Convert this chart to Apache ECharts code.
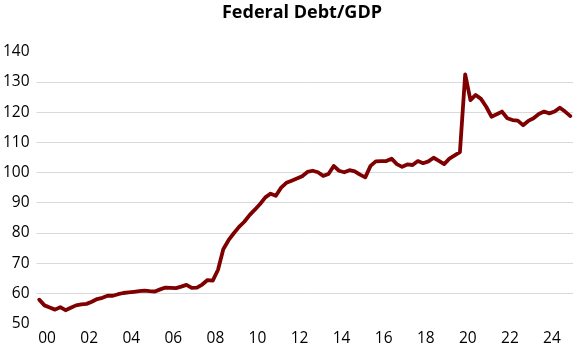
<!DOCTYPE html>
<html>
<head>
<meta charset="utf-8">
<script src="https://cdn.jsdelivr.net/npm/echarts@6/dist/echarts.min.js"></script>
<style>
html,body{margin:0;padding:0;background:#fff;}
#chart{width:585px;height:350px;}
</style>
</head>
<body>
<div id="chart"></div>
<script>
// Quarterly federal debt as % of GDP (first point = 1999 Q3 midpoint)
const firstQuarter = 1999.625;
const quarterStep = 0.25;
const debtToGdp = [
  57.9, 56.0, 55.3, 54.6, 55.4, 54.4, 55.2, 56.0, 56.3, 56.5,
  57.2, 58.1, 58.5, 59.2, 59.2, 59.7, 60.1, 60.3, 60.5, 60.7,
  60.9, 60.7, 60.6, 61.3, 61.9, 61.8, 61.7, 62.2, 62.8, 61.8,
  61.9, 62.9, 64.4, 64.2, 67.8, 74.6, 77.6, 79.9, 82.0, 83.7,
  85.9, 87.7, 89.6, 91.8, 93.0, 92.3, 95.0, 96.6, 97.3, 98.0,
  98.8, 100.2, 100.6, 100.1, 98.9, 99.5, 102.2, 100.6, 100.1, 100.8,
  100.4, 99.3, 98.4, 102.2, 103.7, 103.8, 103.8, 104.6, 102.8, 101.9,
  102.7, 102.5, 103.8, 103.1, 103.7, 104.9, 103.9, 102.8, 104.6, 105.7,
  106.8, 132.5, 124.0, 125.7, 124.4, 121.8, 118.5, 119.3, 120.2, 118.0,
  117.4, 117.2, 115.7, 117.1, 118.0, 119.4, 120.2, 119.6, 120.2, 121.5,
  120.2, 118.7
];
const xTickYears = [2000, 2002, 2004, 2006, 2008, 2010, 2012, 2014, 2016, 2018, 2020, 2022, 2024];
const yTicks = [50, 60, 70, 80, 90, 100, 110, 120, 130, 140];
const titleText = 'Federal Debt/GDP';

const seriesData = debtToGdp.map((v, i) => [firstQuarter + i * quarterStep, v]);

const chart = echarts.init(document.getElementById('chart'), null, {renderer: 'canvas'});
chart.setOption({
  animation: false,
  backgroundColor: '#ffffff',
  title: {
    text: titleText,
    left: 302,
    top: 4,
    padding: 0,
    textAlign: 'center',
    textStyle: {
      fontFamily: 'Open Sans',
      fontWeight: 'bold',
      fontSize: 18,
      color: '#000000'
    }
  },
  grid: {
    left: 33,
    right: 12,
    top: 51.8,
    bottom: 26.5,
    containLabel: false
  },
  xAxis: {
    type: 'value',
    min: 1999.5,
    max: 2025,
    axisLine: {show: false},
    axisTick: {show: false},
    splitLine: {show: false},
    axisLabel: {
      customValues: xTickYears,
      formatter: v => String(Math.round(v) % 100).padStart(2, '0'),
      fontFamily: 'Open Sans',
      fontSize: 15.5,
      color: '#000000',
      margin: 7
    }
  },
  yAxis: {
    type: 'value',
    min: yTicks[0],
    max: yTicks[yTicks.length - 1],
    interval: 10,
    axisLine: {show: false},
    axisTick: {show: false},
    splitLine: {
      show: true,
      showMinLine: false,
      showMaxLine: false,
      lineStyle: {color: '#d9d9d9', width: 1}
    },
    axisLabel: {
      fontFamily: 'Open Sans',
      fontSize: 15.5,
      color: '#000000',
      margin: 7
    }
  },
  series: [{
    type: 'line',
    data: seriesData,
    showSymbol: false,
    symbol: 'none',
    smooth: false,
    lineStyle: {color: '#7f0000', width: 3.8, join: 'round', cap: 'round'}
  }]
});
</script>
</body>
</html>
